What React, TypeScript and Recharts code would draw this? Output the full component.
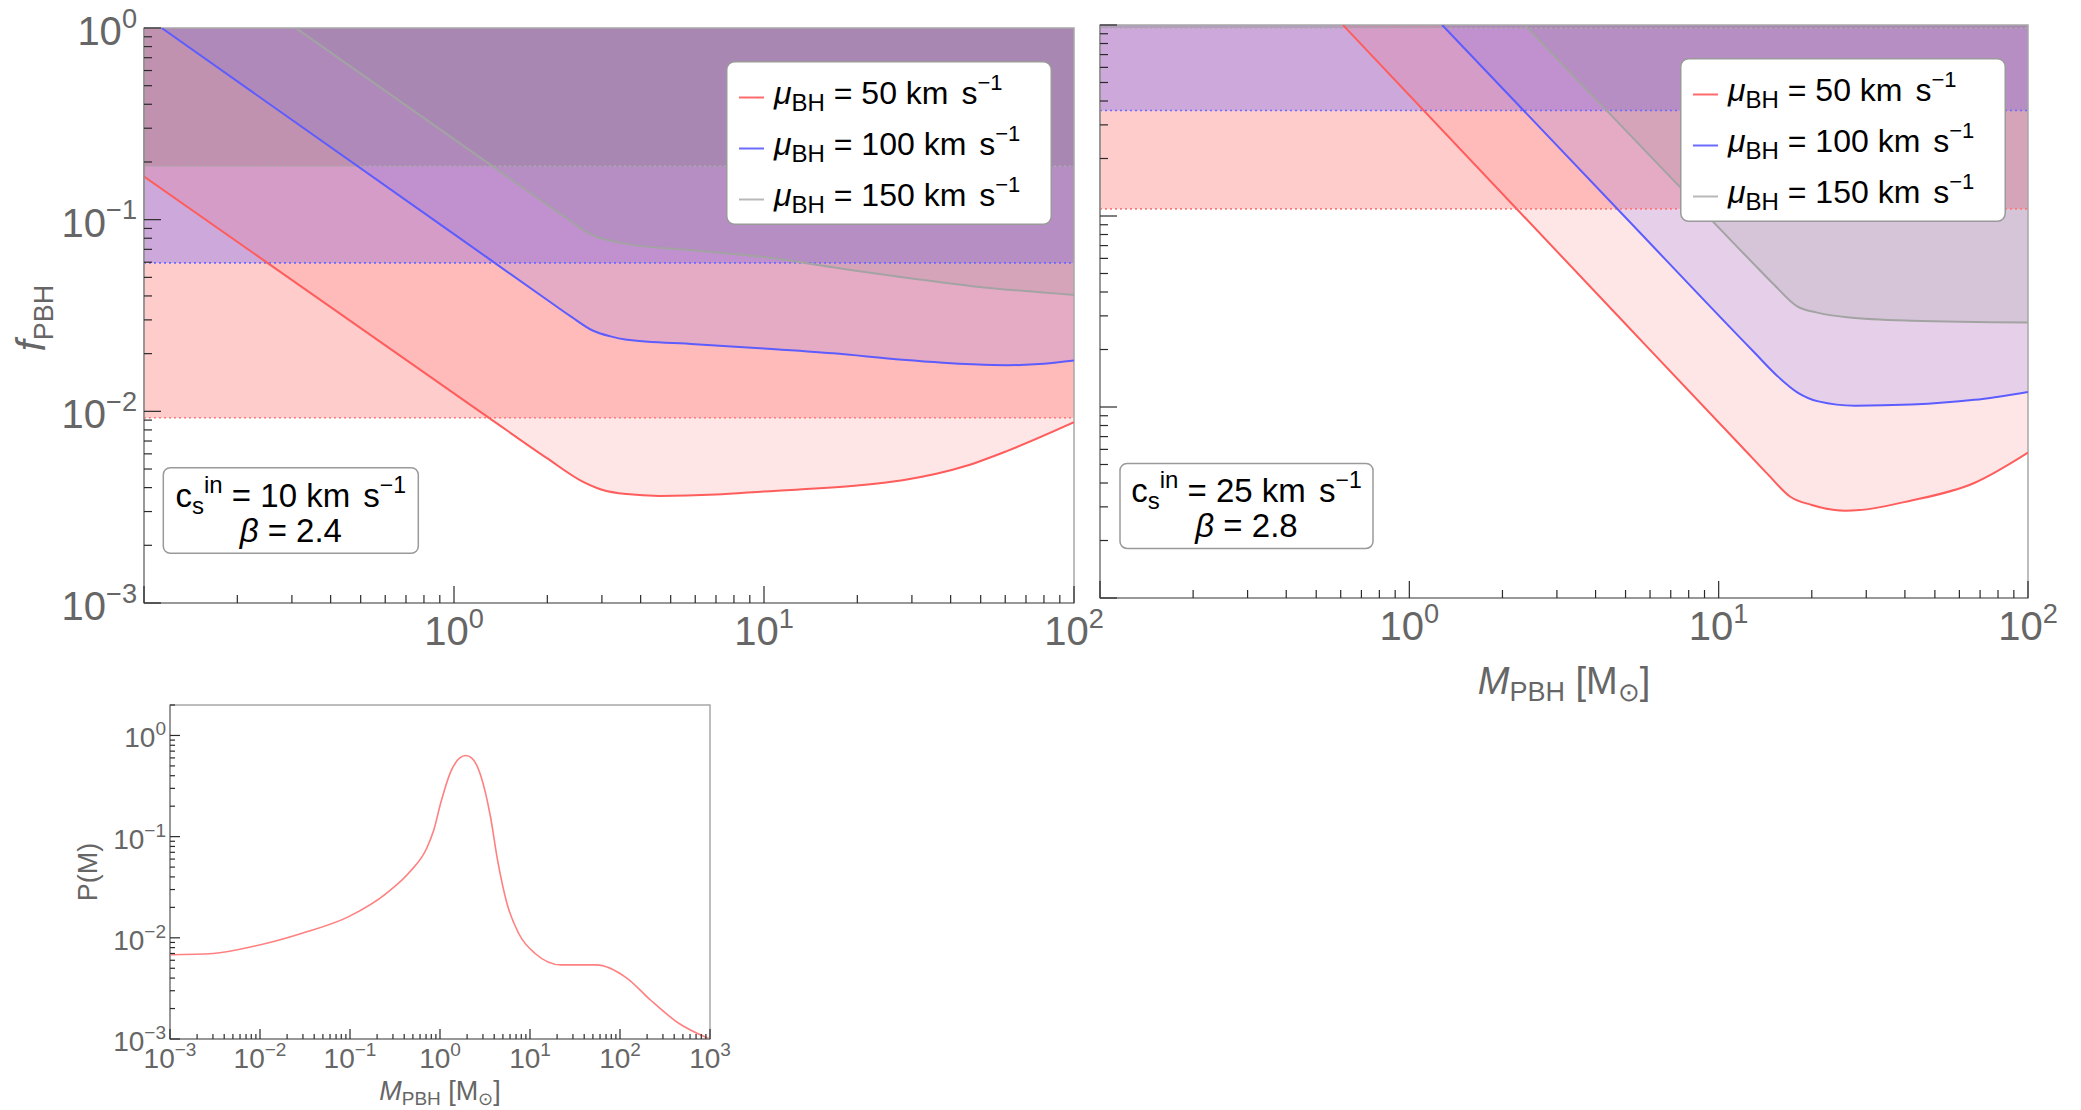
import React from 'react';
import { ComposedChart, Area, Line, XAxis, YAxis, ReferenceArea, ReferenceLine, Legend } from 'recharts';

const FONT = '"Liberation Sans", Arial, Helvetica, sans-serif';
const TICK_GRAY = '#666666';

// ---------- data: legend / series ----------
const legendSpeeds = ['50', '100', '150'];

// Top-left panel: c_s^in = 10 km/s, beta = 2.4
const leftMu50X = [0.1, 1.29, 2.0, 2.6, 3.0, 3.6, 4.6, 7, 10, 20, 28, 45, 60.7, 100];
const leftMu50Y = [0.168, 0.0093, 0.00568, 0.0043, 0.0039, 0.0037, 0.00362, 0.00368, 0.00382, 0.0041, 0.00437, 0.0052, 0.0062, 0.00877];
const leftMu100X = [0.114, 1.0, 2.0, 2.4, 2.8, 3.2, 3.57, 6, 10, 16.7, 28, 46.9, 60.7, 80, 100];
const leftMu100Y = [1, 0.0841, 0.0381, 0.031, 0.0264, 0.0246, 0.0237, 0.0224, 0.0213, 0.0201, 0.0186, 0.0176, 0.0174, 0.0177, 0.0184];
const leftMu150X = [0.309, 1.0, 2.0, 2.4, 2.62, 2.9, 3.3, 3.57, 6, 10, 16.7, 28, 46.9, 100];
const leftMu150Y = [1, 0.263, 0.1196, 0.0972, 0.088, 0.081, 0.077, 0.075, 0.069, 0.0638, 0.0564, 0.05, 0.045, 0.0405];
const leftBands = [0.00926, 0.0595, 0.19]; // mu = 50, 100, 150

// Top-right panel: c_s^in = 25 km/s, beta = 2.8
const rightMu50X = [0.61, 5, 12, 14.5, 17, 20, 25.7, 42, 67, 100];
const rightMu50Y = [1, 0.0272, 0.00608, 0.0044, 0.0034, 0.00307, 0.00286, 0.00324, 0.0040, 0.00577];
const rightMu100X = [1.277, 5, 13, 15.5, 18, 21, 27.6, 42, 67, 100];
const rightMu100Y = [1, 0.0982, 0.0194, 0.0145, 0.0119, 0.0107, 0.01016, 0.0103, 0.0109, 0.012];
const rightMu150X = [2.36, 8, 13, 15, 18, 20.8, 26, 42, 100];
const rightMu150Y = [1, 0.127, 0.056, 0.0442, 0.0335, 0.0312, 0.0295, 0.0283, 0.0277];
const rightBands = [0.109, 0.357, 0.965];

// Bottom panel: P(M)
const pmX = [0.001, 0.003, 0.0088, 0.0294, 0.098, 0.256, 0.468, 0.714, 0.855, 1.02, 1.3, 1.66, 1.94, 2.24, 2.85, 3.63, 4.35, 5.53, 7.47, 11.4, 22.1, 35, 54.5, 119, 218, 449, 1000];
const pmY = [0.0068, 0.007, 0.0083, 0.0111, 0.0163, 0.0277, 0.0454, 0.0773, 0.117, 0.216, 0.427, 0.601, 0.634, 0.601, 0.396, 0.159, 0.0592, 0.0221, 0.0111, 0.007, 0.0054, 0.0054, 0.0054, 0.004, 0.00243, 0.00143, 0.001];

// ---------- ticks ----------
const MINOR_MULT = [2, 3, 4, 5, 6, 7, 8, 9];
const topXMajor = [0.1, 1, 10, 100];
const topXLabelExp = [0, 1, 2];
const topYMajor = [0.001, 0.01, 0.1, 1];
const leftYLabelExp = [-3, -2, -1, 0];
const rightYLabelExp: number[] = [];
const botXMajor = [0.001, 0.01, 0.1, 1, 10, 100, 1000];
const botXLabelExp = [-3, -2, -1, 0, 1, 2, 3];
const botYMajor = [0.001, 0.01, 0.1, 1];
const botYLabelExp = [-3, -2, -1, 0];

const zip = (xs: number[], ys: number[]) => xs.map((x, i) => ({ x, y: ys[i] }));

function withMinors(majors: number[], max: number) {
  const out: number[] = [];
  majors.forEach((m) => {
    out.push(m);
    MINOR_MULT.forEach((k) => out.push(m * k));
  });
  return out.filter((v) => v <= max * 1.0001).sort((a, b) => a - b);
}

const isPow10 = (v: number) => Math.abs(Math.log10(v) - Math.round(Math.log10(v))) < 1e-6;

const COLORS = {
  redLine: '#ff5c5c',
  blueLine: '#5c5cff',
  grayLine: '#a3a3a3',
  redFill: '#ff5555',
  blueFill: '#5a5aff',
  grayFill: '#808080',
  redDot: '#ff7777',
  blueDot: '#6a6aff',
  grayDot: '#aaaaaa',
};

function PowText({ x, y, exp, size, anchor }: { x: number; y: number; exp: number; size: number; anchor: string }) {
  const e = exp < 0 ? '\u2212' + Math.abs(exp) : String(exp);
  return (
    <text x={x} y={y} textAnchor={anchor as any} fontFamily={FONT} fontSize={size} fill={TICK_GRAY}>
      10
      <tspan fontSize={size * 0.68} dy={-size * 0.43}>{e}</tspan>
    </text>
  );
}

function makeXTick(cfg: { major: number; minor: number; labels: number[]; font: number; dy: number }) {
  return (props: any) => {
    const { x, y, payload } = props;
    const v = payload.value;
    const major = isPow10(v);
    const e = Math.round(Math.log10(v));
    const show = major && cfg.labels.includes(e);
    return (
      <g>
        <line x1={x} x2={x} y1={y} y2={y - (major ? cfg.major : cfg.minor)} stroke="#2a2a2a" strokeWidth={1.2} />
        {show && <PowText x={x} y={y + cfg.dy} exp={e} size={cfg.font} anchor="middle" />}
      </g>
    );
  };
}

function makeYTick(cfg: { major: number; minor: number; labels: number[]; font: number; dx: number; dy: number }) {
  return (props: any) => {
    const { x, y, payload } = props;
    const v = payload.value;
    const major = isPow10(v);
    const e = Math.round(Math.log10(v));
    const show = major && cfg.labels.includes(e);
    return (
      <g>
        <line x1={x} x2={x + (major ? cfg.major : cfg.minor)} y1={y} y2={y} stroke="#2a2a2a" strokeWidth={1.2} />
        {show && <PowText x={x - cfg.dx} y={y + cfg.dy} exp={e} size={cfg.font} anchor="end" />}
      </g>
    );
  };
}

function LegendBox() {
  const lineColors = ['#ff6b6b', '#6b6bff', '#b8b8b8'];
  return (
    <svg width={326} height={164} style={{ display: 'block' }}>
      <rect x={0.75} y={0.75} width={324.5} height={162.5} rx={8} fill="#ffffff" stroke="#9a9a9a" strokeWidth={1.5} />
      {legendSpeeds.map((s, i) => (
        <g key={s}>
          <line x1={13} x2={38} y1={36.5 + i * 51} y2={36.5 + i * 51} stroke={lineColors[i]} strokeWidth={2} />
          <text x={48} y={42.5 + i * 51} fontFamily={FONT} fontSize={32} fill="#000" style={{ whiteSpace: 'pre' }}>
            <tspan fontStyle="italic">μ</tspan>
            <tspan fontSize={24} dy={7}>BH</tspan>
            <tspan dy={-7}>{` = ${s} km`}</tspan>
            <tspan dx={4}>{' s'}</tspan>
            <tspan fontSize={22} dy={-14}>{'\u22121'}</tspan>
          </text>
        </g>
      ))}
    </svg>
  );
}

function Panel({
  mu50, mu100, mu150, bands, width, height, margin, yLabels, legendPos,
}: any) {
  const xTicks = withMinors(topXMajor, 100);
  const yTicks = withMinors(topYMajor, 1);
  const series = [
    { d: mu50, fill: COLORS.redFill, line: COLORS.redLine },
    { d: mu100, fill: COLORS.blueFill, line: COLORS.blueLine },
    { d: mu150, fill: COLORS.grayFill, line: COLORS.grayLine },
  ];
  const bandFills = [COLORS.redFill, COLORS.blueFill, COLORS.grayFill];
  const bandDots = [COLORS.redDot, COLORS.blueDot, COLORS.grayDot];
  return (
    <ComposedChart width={width} height={height} margin={margin}>
      <XAxis
        type="number" dataKey="x" scale="log" domain={[0.1, 100]} allowDataOverflow
        ticks={xTicks} interval={0} tickLine={false} tickSize={0} tickMargin={0} height={1}
        axisLine={{ stroke: '#8c8c8c', strokeWidth: 1.5 }}
        tick={makeXTick({ major: 17, minor: 8, labels: topXLabelExp, font: 40, dy: 42 })}
      />
      <YAxis
        type="number" scale="log" domain={[0.001, 1]} allowDataOverflow
        ticks={yTicks} interval={0} tickLine={false} tickSize={0} tickMargin={0} width={1}
        axisLine={{ stroke: '#8c8c8c', strokeWidth: 1.5 }}
        tick={makeYTick({ major: 17, minor: 8, labels: yLabels, font: 40, dx: 7, dy: 17 })}
      />
      {bands.map((b: number, i: number) => (
        <ReferenceArea key={'ba' + i} y1={b} y2={1} fill={bandFills[i]} fillOpacity={0.3} stroke="none" />
      ))}
      {series.map((s, i) => (
        <Area
          key={'ar' + i} data={s.d} dataKey={(r: any) => [r.y, 1]} type="monotone"
          fill={s.fill} fillOpacity={0.15} stroke="none" isAnimationActive={false} legendType="none"
        />
      ))}
      {bands.map((b: number, i: number) => (
        <ReferenceLine key={'bl' + i} y={b} stroke={bandDots[i]} strokeWidth={1.6} strokeDasharray="2 3" />
      ))}
      {series.map((s, i) => (
        <Line
          key={'ln' + i} data={s.d} dataKey="y" type="monotone" stroke={s.line} strokeWidth={2}
          dot={false} activeDot={false} isAnimationActive={false} legendType="none"
        />
      ))}
      <ReferenceArea x1={0.1} x2={100} y1={0.001} y2={1} fill="none" stroke="#a8a8a8" strokeWidth={1.5} />
      <Legend
        layout="vertical" align="center" verticalAlign="middle"
        content={() => <LegendBox />}
        wrapperStyle={{ left: legendPos[0], top: legendPos[1], width: 326, height: 164 }}
      />
    </ComposedChart>
  );
}

function PMChart() {
  const xTicks = withMinors(botXMajor, 1000);
  const yTicks = withMinors(botYMajor, 2);
  const data = zip(pmX, pmY);
  return (
    <ComposedChart width={760} height={420} margin={{ top: 15, right: 50, bottom: 70, left: 169 }}>
      <XAxis
        type="number" dataKey="x" scale="log" domain={[0.001, 1000]} allowDataOverflow
        ticks={xTicks} interval={0} tickLine={false} tickSize={0} tickMargin={0} height={1}
        axisLine={{ stroke: '#8c8c8c', strokeWidth: 1.5 }}
        tick={makeXTick({ major: 10, minor: 5, labels: botXLabelExp, font: 28, dy: 29 })}
      />
      <YAxis
        type="number" scale="log" domain={[0.001, 2]} allowDataOverflow
        ticks={yTicks} interval={0} tickLine={false} tickSize={0} tickMargin={0} width={1}
        axisLine={{ stroke: '#8c8c8c', strokeWidth: 1.5 }}
        tick={makeYTick({ major: 10, minor: 5, labels: botYLabelExp, font: 28, dx: 4, dy: 12 })}
      />
      <ReferenceArea x1={0.001} x2={1000} y1={0.001} y2={2} fill="none" stroke="#a8a8a8" strokeWidth={1.5} />
      <Line
        data={data} dataKey="y" type="monotone" stroke="#ff8080" strokeWidth={1.6}
        dot={false} activeDot={false} isAnimationActive={false} legendType="none"
      />
    </ComposedChart>
  );
}

function Overlay() {
  const sub = (t: string, size: number, dy: number) => (
    <tspan fontSize={size} dy={dy}>{t}</tspan>
  );
  const annot = (x: number, y: number, w: number, h: number, cs: string, beta: string) => (
    <g>
      <rect x={x} y={y} width={w} height={h} rx={7} fill="#fff" stroke="#9a9a9a" strokeWidth={1.5} />
      <text x={x + w / 2} y={y + 39} textAnchor="middle" fontFamily={FONT} fontSize={33} fill="#000" style={{ whiteSpace: 'pre' }}>
        c
        {sub('s', 24, 7)}
        {sub('in', 24, -21)}
        <tspan dy={14}>{` = ${cs} km`}</tspan>
        <tspan dx={4}>{' s'}</tspan>
        <tspan fontSize={23} dy={-14}>{'\u22121'}</tspan>
      </text>
      <text x={x + w / 2} y={y + 74} textAnchor="middle" fontFamily={FONT} fontSize={33} fill="#000" style={{ whiteSpace: 'pre' }}>
        <tspan fontStyle="italic">β</tspan>
        {` = ${beta}`}
      </text>
    </g>
  );
  return (
    <svg width={2081} height={1110} style={{ position: 'absolute', left: 0, top: 0, pointerEvents: 'none' }}>
      {annot(163.3, 467.7, 255, 85.6, '10', '2.4')}
      {annot(1120, 463.4, 253, 85, '25', '2.8')}
      <text transform="translate(45,318) rotate(-90)" textAnchor="middle" fontFamily={FONT} fontSize={40} fill={TICK_GRAY} style={{ whiteSpace: 'pre' }}>
        <tspan fontStyle="italic">f</tspan>
        <tspan fontSize={27} dy={8}>PBH</tspan>
      </text>
      <text x={1564} y={694} textAnchor="middle" fontFamily={FONT} fontSize={38} fill={TICK_GRAY} style={{ whiteSpace: 'pre' }}>
        <tspan fontStyle="italic">M</tspan>
        <tspan fontSize={27} dy={7}>PBH</tspan>
        <tspan dy={-7}>{' [M'}</tspan>
        <tspan fontSize={26} dy={7}>⊙</tspan>
        <tspan dy={-7}>]</tspan>
      </text>
      <text transform="translate(97,872) rotate(-90)" textAnchor="middle" fontFamily={FONT} fontSize={27} fill={TICK_GRAY}>
        P(M)
      </text>
      <text x={440} y={1100} textAnchor="middle" fontFamily={FONT} fontSize={27} fill={TICK_GRAY} style={{ whiteSpace: 'pre' }}>
        <tspan fontStyle="italic">M</tspan>
        <tspan fontSize={19} dy={5}>PBH</tspan>
        <tspan dy={-5}>{' [M'}</tspan>
        <tspan fontSize={18} dy={5}>⊙</tspan>
        <tspan dy={-5}>]</tspan>
      </text>
    </svg>
  );
}

export default function App() {
  return (
    <div style={{ position: 'absolute', left: 0, top: 0, width: 2081, height: 1110, background: '#ffffff', overflow: 'hidden' }}>
      <div style={{ position: 'absolute', left: 0, top: 0 }}>
        <Panel
          mu50={zip(leftMu50X, leftMu50Y)} mu100={zip(leftMu100X, leftMu100Y)} mu150={zip(leftMu150X, leftMu150Y)}
          bands={leftBands} width={1120} height={720}
          margin={{ top: 28, right: 46, bottom: 116, left: 143 }}
          yLabels={leftYLabelExp} legendPos={[726, 61]}
        />
      </div>
      <div style={{ position: 'absolute', left: 1080, top: 0 }}>
        <Panel
          mu50={zip(rightMu50X, rightMu50Y)} mu100={zip(rightMu100X, rightMu100Y)} mu150={zip(rightMu150X, rightMu150Y)}
          bands={rightBands} width={1001} height={720}
          margin={{ top: 25, right: 53, bottom: 121, left: 19 }}
          yLabels={rightYLabelExp} legendPos={[600, 58]}
        />
      </div>
      <div style={{ position: 'absolute', left: 0, top: 690 }}>
        <PMChart />
      </div>
      <Overlay />
    </div>
  );
}
